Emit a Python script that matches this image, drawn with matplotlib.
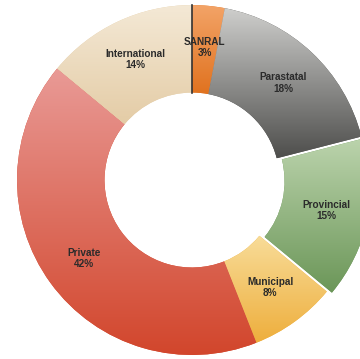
import numpy as np
import matplotlib
matplotlib.use('Agg')
import matplotlib.pyplot as plt
from matplotlib.colors import LinearSegmentedColormap

plt.rcParams['font.family'] = ['Liberation Sans', 'DejaVu Sans']

# data, clockwise from 12 o'clock
labels = ['SANRAL', 'Parastatal', 'Provincial', 'Municipal', 'Private', 'International']
shares = [3, 18, 15, 8, 42, 14]

# light -> dark shade for each slice
shades = [('#f3a468', '#e0721f'),
          ('#cfcfcd', '#4e4e4c'),
          ('#bcd4ad', '#6b9658'),
          ('#f8dc98', '#eeae3c'),
          ('#e99a96', '#d2462c'),
          ('#f4e9d6', '#e4cca6')]
explode = [0, 0, 0.03, 0, 0, 0]

fig = plt.figure(figsize=(3.60, 3.59), dpi=100)
ax = fig.add_axes([0, 0, 1, 1])

ring = 0.5
wedges, _, pcts = ax.pie(shares, startangle=90, counterclock=False,
                         explode=explode, radius=1,
                         colors=[s[1] for s in shades],
                         wedgeprops=dict(width=ring, linewidth=0),
                         autopct=lambda p: '', pctdistance=0.76)

# gradient fill clipped to each wedge
for w, (c1, c2), txt, lab, val in zip(wedges, shades, pcts, labels, shares):
    bb = w.get_path().get_extents()
    cmap = LinearSegmentedColormap.from_list('s', [c1, c2])
    grad = np.linspace(0, 1, 256).reshape(-1, 1)
    im = ax.imshow(grad, cmap=cmap, aspect='auto', origin='upper',
                   extent=[bb.x0, bb.x1, bb.y0, bb.y1], zorder=2)
    im.set_clip_path(w)
    txt.set_text(f'{lab}\n{val}%')
    txt.set_fontsize(7.2)
    txt.set_fontweight('bold')
    txt.set_color('#2b2b2b')
    txt.set_zorder(5)
    txt.set_linespacing(1.15)

# thin dark line at the start of the first slice
a = np.deg2rad(90)
ax.plot([np.cos(a) * (1 - ring), np.cos(a)], [np.sin(a) * (1 - ring), np.sin(a)],
        color='#333333', lw=1.2, zorder=4)

ax.set_xlim(-1.097, 0.96)
ax.set_ylim(-1.023, 1.029)
ax.set_aspect('equal')
ax.axis('off')

fig.savefig('out.png', dpi=100)
